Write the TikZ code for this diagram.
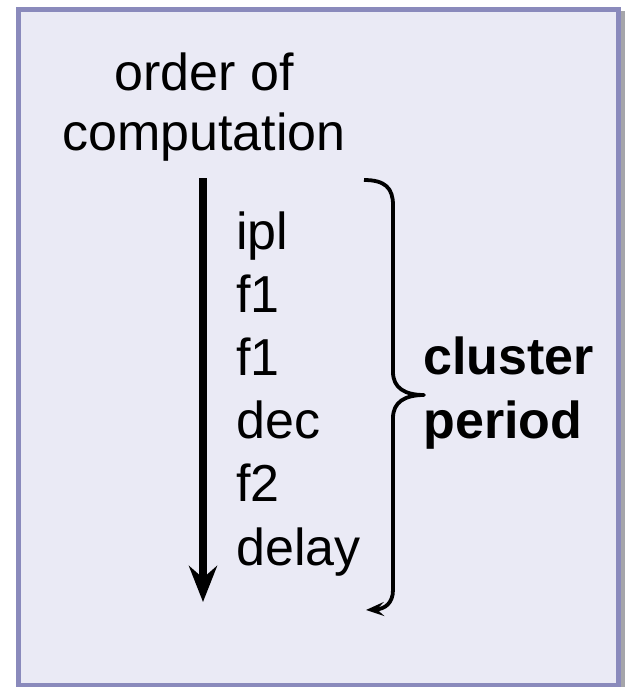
\documentclass[tikz,border=0pt]{standalone}
\usepackage{fontspec}
\setmainfont{Liberation Sans}
\usetikzlibrary{arrows.meta, positioning}
\definecolor{cBox}{RGB}{234,234,245}
\definecolor{cBd} {RGB}{138,138,188}
\definecolor{cSh} {RGB}{165,165,170}
\tikzset{
  panel/.style={draw=cBd, fill=cBox, line width=2.5pt},
  shadowbox/.style={fill=cSh, draw=none},
  lbl/.style={font=\fontsize{26}{30}\selectfont, inner sep=0pt, align=center},
  steps/.style={font=\fontsize{26}{31.6}\selectfont, inner sep=0pt, align=left},
  boldlbl/.style={font=\fontsize{26}{31.6}\selectfont\bfseries, inner sep=0pt, align=left},
  fa/.style={-{Stealth[length=18pt, width=14pt, inset=6pt]}, line width=4pt},
  br/.style={-{Stealth[length=9pt, width=7pt, inset=3.5pt]}, line width=1.9pt,
             line join=round},
}

\begin{document}
\begin{tikzpicture}[x=0.5pt, y=-0.5pt]
\useasboundingbox (0,0) rectangle (625,687);

%% ── Panel ───────────────────────────────────────────────────────────────────
\fill[shadowbox] (20,11) rectangle (625,691);
\draw[panel] (18.5,9.5) rectangle (618.5,685);

%% ── Texts (base = last line) ────────────────────────────────────────────────
\node[lbl, anchor=base]          (title)  at (204,150) {order of\\computation};
\node[steps, anchor=base west]   (steps)  at (236,565) {ipl\\f1\\f1\\dec\\f2\\delay};
\node[boldlbl, anchor=base west] (period) at (423,438) {cluster\\period};

%% ── Order arrow ─────────────────────────────────────────────────────────────
\coordinate (ctop) at (203,178);
\coordinate (cbot) at (203,602);
\draw[fa] (ctop) -- (cbot);

%% ── Brace ───────────────────────────────────────────────────────────────────
\coordinate (btop) at (364,180);
\coordinate (bmid) at (424,395);
\coordinate (bend) at (366,610);
\draw[br] (btop) .. controls (385,180) and (393,188) .. (393,205)
  -- (393,372) .. controls (393,388) and (405,395) .. (bmid)
  .. controls (405,395) and (393,402) .. (393,418)
  -- (393,590) .. controls (393,603) and (385,609) .. (bend);

\end{tikzpicture}
\end{document}
